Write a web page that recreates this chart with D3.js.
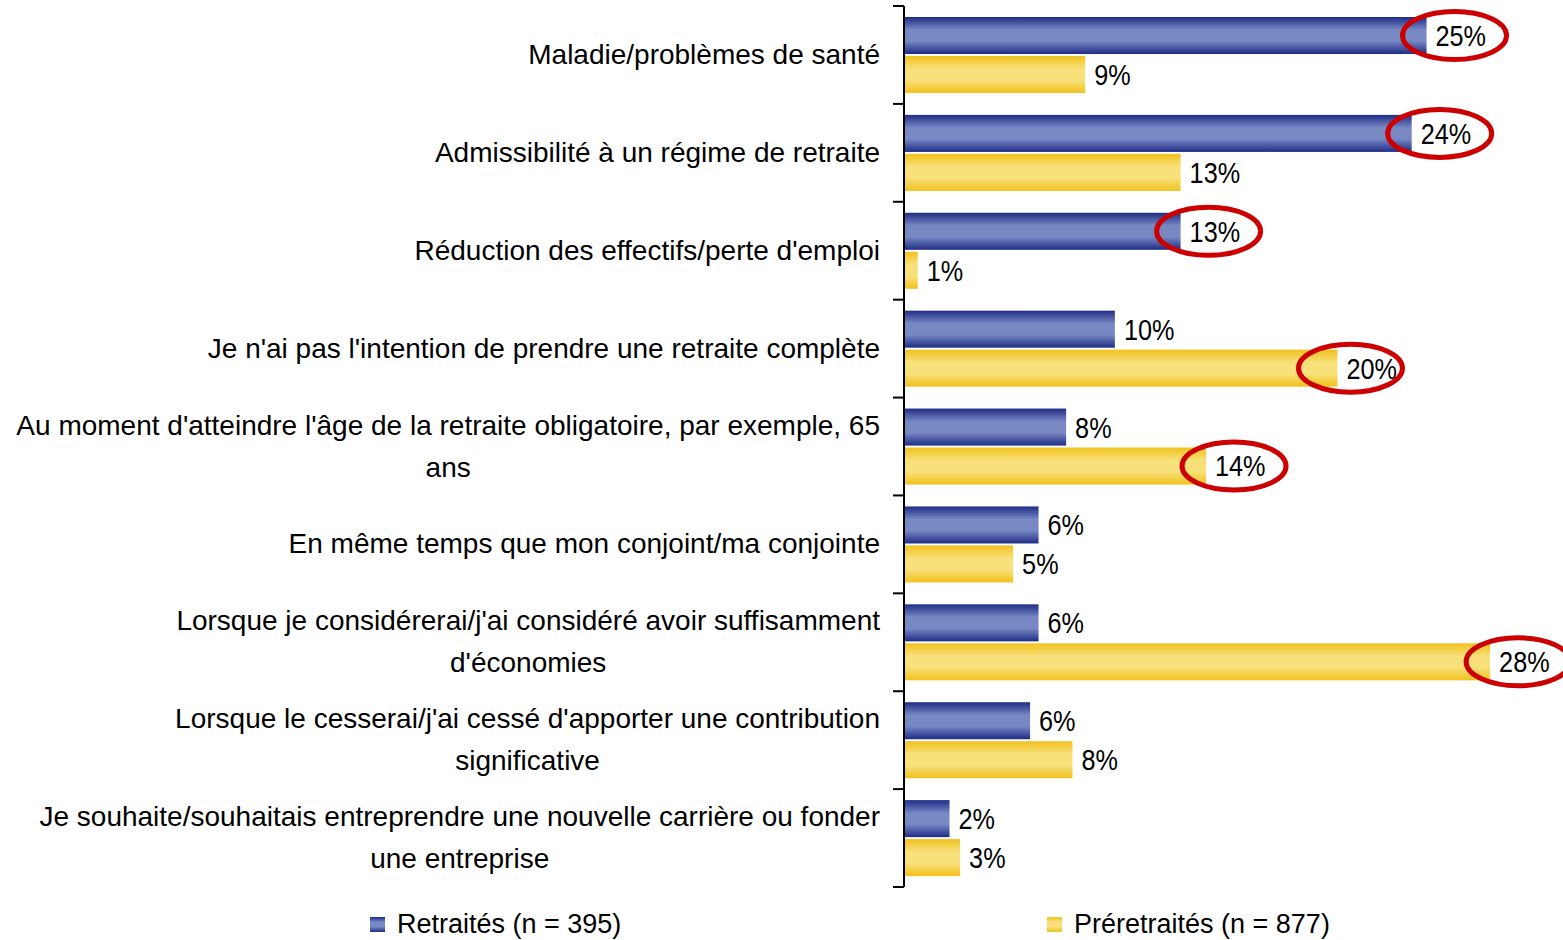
<!DOCTYPE html>
<html lang="fr">
<head>
<meta charset="UTF-8">
<title>Raisons de la retraite</title>
<script src="https://d3js.org/d3.v7.min.js"></script>
<style>
    body { margin: 0; background: #fff; }
    text { font-family: "Liberation Sans Narrow", "Arial Narrow", "Liberation Sans", Arial, sans-serif; fill: #000; }
</style>
</head>
<body>
<div id="chart"></div>
<script>
    // categories (line breaks as in the original)
    const categories = [
        ["Maladie/problèmes de santé"],
        ["Admissibilité à un régime de retraite"],
        ["Réduction des effectifs/perte d'emploi"],
        ["Je n'ai pas l'intention de prendre une retraite complète"],
        ["Au moment d'atteindre l'âge de la retraite obligatoire, par exemple, 65", "ans"],
        ["En même temps que mon conjoint/ma conjointe"],
        ["Lorsque je considérerai/j'ai considéré avoir suffisamment", "d'économies"],
        ["Lorsque le cesserai/j'ai cessé d'apporter une contribution", "significative"],
        ["Je souhaite/souhaitais entreprendre une nouvelle carrière ou fonder", "une entreprise"]
    ];
    const seriesNames = ["Retraités (n = 395)", "Préretraités (n = 877)"];
    const retraites = [24.6, 23.9, 13.0, 9.9, 7.6, 6.3, 6.3, 5.9, 2.1];
    const preretraites = [8.5, 13.0, 0.6, 20.4, 14.2, 5.1, 27.6, 7.9, 2.6];
    // which values are circled in red
    const circledRetraites = [0, 1, 2];
    const circledPreretraites = [3, 4, 6];

    const W = 1563, H = 940;
    const axisX = 904;

    const svg = d3.select("#chart").append("svg")
        .attr("width", W).attr("height", H);

    const defs = svg.append("defs");
    function grad(id, edge, mid) {
        const g = defs.append("linearGradient").attr("id", id)
            .attr("x1", 0).attr("y1", 0).attr("x2", 0).attr("y2", 1);
        g.append("stop").attr("offset", "0%").attr("stop-color", edge);
        g.append("stop").attr("offset", "35%").attr("stop-color", mid);
        g.append("stop").attr("offset", "65%").attr("stop-color", mid);
        g.append("stop").attr("offset", "100%").attr("stop-color", edge);
    }
    grad("gBlue", "#1f2c86", "#7888c3");
    grad("gYellow", "#f1c21c", "#f8e07b");

    const y = d3.scaleBand()
        .domain(d3.range(categories.length))
        .range([6, 887]);

    const x = d3.scaleLinear()
        .domain([0, 30])
        .range([axisX + 1, axisX + 1 + 30 * 21.2]);

    const sub = d3.scaleBand()
        .domain([0, 1])
        .range([11, 87])
        .paddingInner(0.05);

    const series = [
        {name: seriesNames[0], values: retraites, fill: "url(#gBlue)", circled: circledRetraites},
        {name: seriesNames[1], values: preretraites, fill: "url(#gYellow)", circled: circledPreretraites}
    ];

    // the hand-drawn ellipse on "20%" sits further left than the others
    const ellipseShift = {"1-3": -15};

    // bars
    series.forEach((s, si) => {
        const g = svg.append("g");
        g.selectAll("rect")
            .data(s.values)
            .join("rect")
            .attr("x", x(0))
            .attr("y", (d, i) => y(i) + sub(si))
            .attr("width", d => x(d) - x(0))
            .attr("height", sub.bandwidth())
            .attr("fill", s.fill);

        g.selectAll("text")
            .data(s.values)
            .join("text")
            .attr("transform", (d, i) =>
                `translate(${x(d) + 9},${y(i) + sub(si) + sub.bandwidth() / 2}) scale(0.87,1)`)
            .attr("dy", "0.36em")
            .style("font-size", "29px")
            .text(d => Math.round(d) + "%");

        g.selectAll("ellipse")
            .data(s.circled)
            .join("ellipse")
            .attr("cx", i => x(s.values[i]) + 28 + (ellipseShift[si + "-" + i] || 0))
            .attr("cy", i => y(i) + sub(si) + sub.bandwidth() / 2)
            .attr("rx", 52)
            .attr("ry", 24)
            .attr("fill", "none")
            .attr("stroke", "#cc0000")
            .attr("stroke-width", 5);
    });

    // category axis
    const axis = svg.append("g").attr("stroke", "#000").attr("stroke-width", 2);
    axis.append("line")
        .attr("x1", axisX).attr("x2", axisX)
        .attr("y1", y.range()[0]).attr("y2", y.range()[1]);
    axis.selectAll("line.tick")
        .data(d3.range(categories.length + 1))
        .join("line")
        .attr("class", "tick")
        .attr("x1", axisX - 11).attr("x2", axisX)
        .attr("y1", i => y.range()[0] + i * y.step())
        .attr("y2", i => y.range()[0] + i * y.step());

    // category labels, centred as a block whose right edge is at 880
    const labels = svg.append("g");
    categories.forEach((lines, i) => {
        const t = labels.append("text")
            .attr("text-anchor", "middle")
            .style("font-size", "28px");
        const cy = y(i) + y.bandwidth() / 2 - 1;
        const lh = 42;
        lines.forEach((ln, k) => {
            t.append("tspan")
                .attr("y", cy + (k - (lines.length - 1) / 2) * lh)
                .attr("dy", "0.36em")
                .text(ln);
        });
        const w = d3.max(t.selectAll("tspan").nodes(), n => n.getComputedTextLength());
        t.selectAll("tspan").attr("x", 880 - w / 2);
    });

    // legend
    const legendX = [370, 1047];
    const legend = svg.append("g");
    series.forEach((s, si) => {
        legend.append("rect")
            .attr("x", legendX[si]).attr("y", 917)
            .attr("width", 15).attr("height", 15)
            .attr("fill", s.fill);
        legend.append("text")
            .attr("x", legendX[si] + 27)
            .attr("y", 923)
            .attr("dy", "0.36em")
            .style("font-size", "27px")
            .text(s.name);
    });
</script>
</body>
</html>
